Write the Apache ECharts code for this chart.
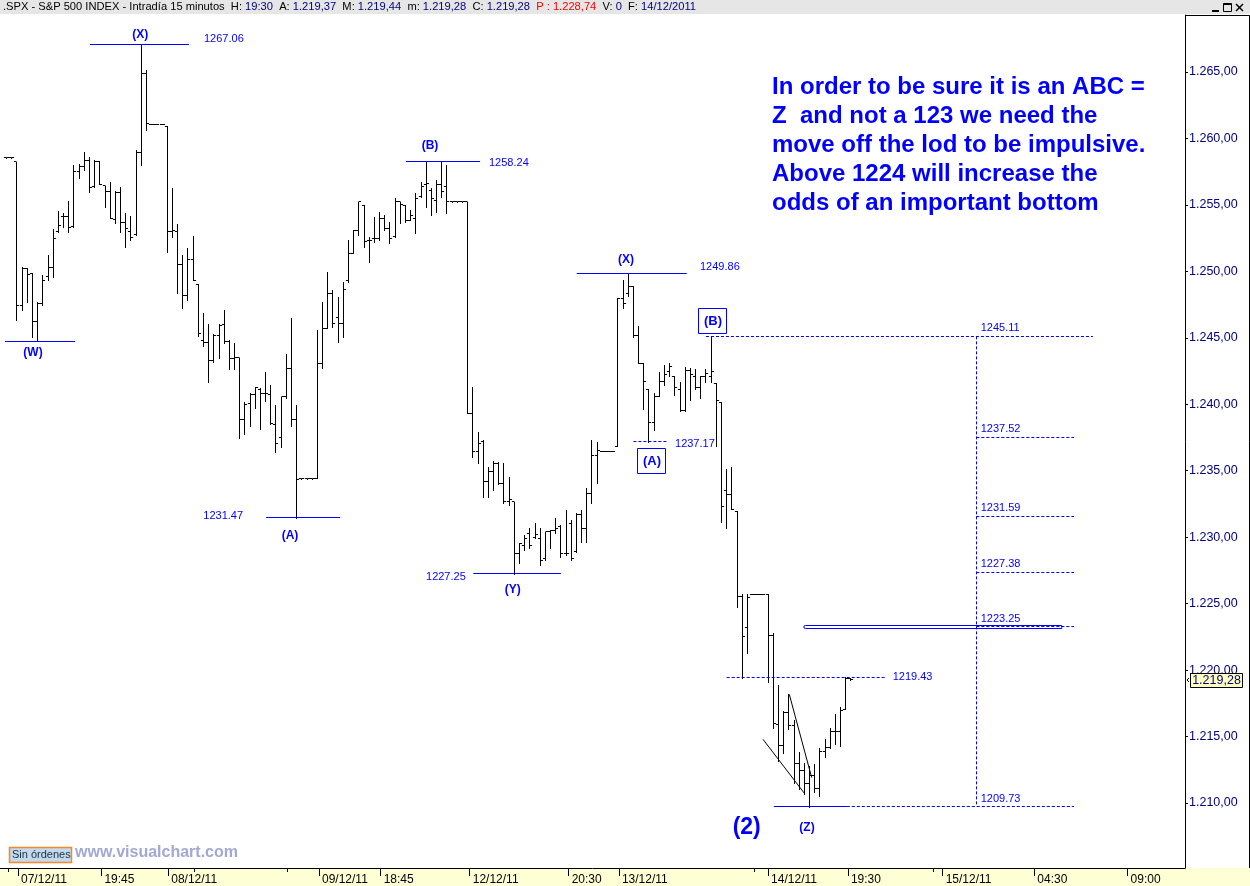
<!DOCTYPE html>
<html><head><meta charset="utf-8">
<script src="https://cdn.jsdelivr.net/npm/echarts@6/dist/echarts.min.js"></script>
<style>html,body{margin:0;padding:0;background:#fff}#c{width:1250px;height:886px}</style>
</head><body><div id="c"></div>
<script>
// ---------- axis ranges / ticks ----------
const X_MIN = -0.28, X_MAX = 228.48;
const Y_MIN = 1205.11, Y_MAX = 1269.29;
const yTickValues = [1210, 1215, 1220, 1225, 1230, 1235, 1240, 1245, 1250, 1255, 1260, 1265];
const xTickSlots  = [3.2, 19.3, 32.2, 61.3, 73.2, 90.4, 109.5, 119.2, 148, 163.4, 181.7, 199.4, 217.4];
const xTickLabels = ['07/12/11','19:45','08/12/11','09/12/11','18:45','12/12/11','20:30','13/12/11','14/12/11','19:30','15/12/11','04:30','09:00'];
const xMinorSlots = [1.3, 37.2, 55.1, 145.3, 179.8];

// ---------- OHLC bars: [open, high, low, close], one array per session ----------
const firstSlot = 1;
const flat0612 = [1258.55, 1258.55];
const bars0712 = [
 [1258.25,1258.25,1246.34,1247.47],[1247.47,1250.30,1247.09,1250.22],[1250.22,1250.22,1247.72,1249.80],
 [1249.85,1249.85,1245.03,1246.26],[1246.26,1247.72,1244.76,1247.59],[1247.59,1249.72,1247.47,1249.35],
 [1249.60,1251.23,1249.35,1250.30],[1250.30,1253.16,1249.60,1252.48],[1253.00,1254.54,1252.93,1253.48],
 [1254.11,1254.36,1253.36,1254.11],[1254.11,1255.29,1252.98,1253.31],[1253.36,1258.00,1253.31,1257.50],
 [1257.50,1258.07,1257.00,1257.87],[1257.87,1258.95,1257.62,1258.38],[1258.38,1258.63,1255.99,1256.29],
 [1256.37,1258.38,1256.37,1258.30],[1258.30,1258.30,1256.54,1256.54],[1256.44,1256.44,1254.86,1255.99],
 [1255.99,1256.70,1253.99,1253.99],[1253.91,1256.07,1253.66,1255.94],[1255.94,1256.37,1252.98,1253.66],
 [1253.66,1254.36,1251.85,1253.23],[1252.98,1254.16,1252.36,1252.56],[1252.78,1259.13,1252.73,1258.93],
 [1258.93,1267.06,1258.00,1264.90],[1264.90,1265.15,1260.63,1261.14]];
const flat0712 = [1261.06, 1261.06, 1261.06];
const bars0812 = [
 [1260.93,1260.93,1251.43,1252.98],[1252.98,1256.24,1252.61,1253.06],[1252.98,1253.56,1248.39,1250.48],
 [1250.48,1251.20,1247.21,1248.22],[1248.22,1251.73,1247.84,1250.93],[1250.93,1252.66,1249.35,1249.35],
 [1249.05,1249.05,1245.13,1245.33],[1244.83,1246.84,1244.40,1244.63],[1244.63,1246.04,1241.65,1243.33],
 [1243.33,1245.30,1243.16,1245.21],[1245.21,1246.04,1243.46,1245.90],[1246.04,1247.09,1244.59,1244.76],
 [1244.76,1244.84,1242.63,1243.46],[1243.46,1244.59,1242.63,1243.53],[1243.50,1243.50,1237.44,1238.87],
 [1238.82,1240.20,1237.74,1240.02],[1240.07,1240.82,1238.37,1240.70],[1240.70,1241.33,1239.75,1241.25],
 [1241.08,1241.20,1238.12,1240.82],[1240.82,1242.40,1240.27,1240.82],[1240.77,1241.45,1238.52,1238.57],
 [1238.49,1239.95,1236.38,1237.06],[1237.51,1240.57,1236.81,1240.57],[1240.57,1243.76,1240.45,1242.71],
 [1242.71,1246.49,1238.39,1238.89],[1238.89,1239.95,1231.47,1234.35]];
const flat0812 = [1234.40, 1234.40, 1234.40];
const bars0912 = [
 [1234.43,1245.59,1234.43,1243.08],[1243.08,1247.72,1242.70,1245.71],[1245.71,1249.98,1245.71,1248.35],
 [1248.35,1248.60,1245.80,1246.09],[1246.50,1248.10,1244.71,1246.09],[1246.09,1249.22,1245.09,1248.60],
 [1249.30,1252.36,1249.22,1251.36],[1251.36,1253.11,1251.36,1253.11],[1253.11,1255.24,1252.74,1255.24],
 [1254.99,1254.99,1251.86,1252.23],[1252.36,1252.61,1250.73,1252.36],[1252.49,1254.10,1252.23,1252.49],
 [1252.49,1254.49,1252.36,1253.99],[1253.99,1254.24,1253.11,1253.24],[1253.24,1253.74,1252.11,1252.49],
 [1252.60,1255.49,1252.60,1255.24],[1255.24,1255.24,1253.61,1255.00],[1254.99,1254.99,1253.74,1253.86],
 [1253.86,1254.60,1253.86,1254.24],[1253.99,1255.87,1252.86,1255.50],[1255.62,1256.75,1255.62,1256.37],
 [1256.50,1258.24,1254.87,1256.62],[1256.12,1256.25,1254.24,1255.50],[1255.30,1256.87,1254.49,1256.50],
 [1256.50,1258.24,1255.62,1256.00],[1256.40,1258.00,1254.37,1255.24]];
const flat0912 = [1255.24, 1255.24, 1255.24];
const bars1212 = [
 [1255.24,1255.24,1239.32,1239.32],[1239.32,1241.32,1236.06,1236.48],[1236.48,1237.94,1235.55,1237.06],
 [1237.20,1237.31,1233.05,1234.18],[1234.18,1235.30,1233.05,1234.93],[1234.93,1235.72,1233.55,1235.55],
 [1235.55,1235.68,1234.00,1234.05],[1234.05,1235.55,1232.55,1232.67],[1232.67,1234.55,1232.42,1232.80],
 [1232.67,1232.67,1227.25,1228.78],[1228.78,1229.54,1228.03,1229.54],[1229.41,1230.16,1229.03,1229.91],
 [1230.29,1230.66,1229.16,1229.41],[1230.00,1231.04,1229.91,1230.24],[1229.91,1230.66,1227.91,1228.28],
 [1228.40,1230.41,1228.28,1230.41],[1230.41,1230.54,1229.16,1230.54],[1230.54,1231.42,1230.29,1230.66],
 [1230.79,1230.92,1228.53,1228.78],[1228.78,1232.04,1228.66,1228.78],[1231.04,1231.30,1228.28,1228.41],
 [1228.91,1231.80,1228.91,1231.67],[1231.67,1232.04,1229.66,1230.67],[1230.67,1233.68,1229.66,1233.30],
 [1233.30,1237.31,1232.55,1236.18],[1236.18,1237.18,1234.05,1236.50]];
const flat1212 = [1236.48, 1236.48, 1236.48];
const bars1312 = [
 [1236.84,1247.97,1236.84,1247.97],[1247.97,1249.36,1247.27,1247.55],[1248.30,1249.86,1248.11,1248.89],
 [1248.89,1248.89,1245.05,1245.20],[1245.20,1245.88,1243.10,1243.10],[1243.10,1243.10,1239.62,1241.70],
 [1241.10,1241.15,1237.17,1238.64],[1238.64,1240.87,1238.09,1240.59],[1240.59,1242.40,1240.59,1241.70],
 [1241.70,1242.96,1241.43,1242.26],[1242.50,1243.10,1242.12,1242.82],[1242.12,1242.12,1240.73,1241.29],
 [1241.15,1241.70,1239.48,1239.56],[1239.56,1242.82,1239.48,1242.54],[1242.54,1242.73,1240.31,1242.26],
 [1242.12,1242.68,1241.15,1241.23],[1241.23,1242.12,1240.45,1242.12],[1242.12,1242.62,1241.70,1242.30],
 [1242.10,1245.11,1241.70,1242.50],[1241.57,1241.57,1236.84,1240.31],[1240.17,1240.17,1231.13,1232.30],
 [1233.55,1235.16,1230.71,1233.22],[1233.22,1235.30,1232.10,1232.10],[1231.96,1231.96,1224.73,1225.56],
 [1225.56,1225.70,1219.43,1222.50],[1223.20,1225.70,1221.25,1225.43]];
const flat1312 = [1225.70, 1225.70, 1225.70];
const bars1412 = [
 [1225.70,1225.70,1219.10,1222.60],[1222.60,1222.78,1215.68,1216.00],[1215.90,1218.88,1213.18,1214.29],
 [1214.30,1216.93,1213.73,1216.80],[1216.80,1218.19,1215.54,1215.82],[1215.82,1216.24,1211.51,1213.00],
 [1213.00,1213.87,1211.09,1212.48],[1212.48,1213.04,1210.67,1211.50],[1211.50,1212.76,1209.73,1212.06],
 [1212.06,1212.90,1210.81,1211.09],[1211.09,1214.15,1210.53,1213.90],[1213.90,1214.85,1213.45,1214.15],
 [1214.15,1215.68,1214.15,1215.40],[1215.40,1216.66,1214.43,1215.40],[1215.40,1217.21,1214.29,1216.93],
 [1217.05,1219.50,1217.05,1219.37],[1219.37,1219.44,1219.28,1219.28]];

// ---------- annotation segments [slot1, price1, slot2, price2, kind] kind: 0 solid blue, 1 dashed blue, 2 black, 3 blue box ----------
const segments = [
 [0.68,1244.76,14.2,1244.76,0],
 [17.1,1267.06,36.2,1267.06,0],
 [51.1,1231.47,65.4,1231.47,0],
 [78.1,1258.24,92.4,1258.24,0],
 [91.1,1227.25,108.0,1227.25,0],
 [111.05,1249.86,132.3,1249.86,0],
 [122.0,1237.17,128.4,1237.17,1],
 [136.0,1245.11,210.7,1245.11,1],
 [188.2,1245.11,188.2,1209.73,1],
 [188.2,1237.52,207.06,1237.52,1],
 [188.2,1231.59,207.06,1231.59,1],
 [188.2,1227.38,207.06,1227.38,1],
 [188.2,1223.25,207.06,1223.25,1],
 [149.1,1209.73,163.2,1209.73,0],
 [163.2,1209.73,207.06,1209.73,1],
 [140.0,1219.43,170.76,1219.43,1],
 [154.9,1223.39,204.68,1223.14,3],
 [147.02,1214.79,155.12,1210.67,2],
 [152.09,1218.18,156.41,1211.92,2]
];

// ---------- annotation texts ----------
const labelSlots  = [6.09, 26.8, 39.1, 55.7, 38.97, 82.73, 94.12, 98.69, 81.96, 120.57, 134.85, 125.59, 130.03, 137.36,
                     189.04, 189.04, 189.04, 189.04, 189.04, 189.04, 172.05, 143.87, 155.51];
const labelValues = [1243.86, 1267.78, 1267.48, 1230.11, 1231.59, 1259.45, 1258.13, 1226.02, 1227.0, 1250.85, 1250.33, 1235.73, 1237.05, 1246.23,
                     1245.74, 1238.14, 1232.17, 1227.96, 1223.82, 1210.30, 1219.46, 1208.12, 1208.15];
const labelTexts  = ['(W)','(X)','1267.06','(A)','1231.47','(B)','1258.24','(Y)','1227.25','(X)','1249.86','(A)','1237.17','(B)',
                     '1245.11','1237.52','1231.59','1227.38','1223.25','1209.73','1219.43','(2)','(Z)'];
const labelKinds  = ['w','w','n','w','n','w','n','w','n','w','n','b','n','b','n','n','n','n','n','n','n','big','w'];

const commentLines = ['In order to be sure it is an ABC =', 'Z  and not a 123 we need the', 'move off the lod to be impulsive.', 'Above 1224 will increase the', 'odds of an important bottom'];

// ---------- build bar data ----------
const sessions = [[bars0712, flat0712],[bars0812, flat0812],[bars0912, flat0912],[bars1212, flat1212],[bars1312, flat1312],[bars1412, []]];
const ohlcData = [];
let slot = firstSlot;
flat0612.forEach(v => { ohlcData.push([slot++, v, v, v, v]); });
sessions.forEach(([bars, flats]) => {
  bars.forEach(b => { ohlcData.push([slot++, b[0], b[1], b[2], b[3]]); });
  flats.forEach(v => { ohlcData.push([slot++, v, v, v, v]); });
});
const lastClose = ohlcData[ohlcData.length - 1][4];

const FONT = '"Liberation Sans", Arial, sans-serif';
const BLUE = '#0000ff';
function fmtNum(v) { const s = v.toFixed(2).replace('.', ','); return s[0] + '.' + s.slice(1); }
function crisp(v) { return Math.round(v - 0.5) + 0.5; }

const chart = echarts.init(document.getElementById('c'), null, {renderer: 'canvas'});
chart.setOption({
  animation: false,
  backgroundColor: '#ffffff',
  grid: {left: 0, right: 65, top: 15, bottom: 18, containLabel: false},
  xAxis: [{
    type: 'value', min: X_MIN, max: X_MAX, position: 'bottom',
    axisLine: {show: true, onZero: false, lineStyle: {color: '#000', width: 1}},
    splitLine: {show: false},
    axisTick: {show: true, customValues: xTickSlots, length: 8, lineStyle: {color: '#000', width: 1}},
    axisLabel: {show: true, customValues: xTickSlots, align: 'left', padding: [0,0,0,3], margin: 6,
      color: '#000', fontSize: 12, fontFamily: FONT,
      formatter: function (v) {
        let best = 0; xTickSlots.forEach((s, i) => { if (Math.abs(s - v) < Math.abs(xTickSlots[best] - v)) best = i; });
        return xTickLabels[best];
      }}
  }, {
    type: 'value', min: X_MIN, max: X_MAX, position: 'bottom',
    axisLine: {show: false, onZero: false}, splitLine: {show: false}, axisLabel: {show: false},
    axisTick: {show: true, customValues: xMinorSlots, length: 4, lineStyle: {color: '#000', width: 1}}
  }],
  yAxis: {
    type: 'value', position: 'right', min: Y_MIN, max: Y_MAX,
    axisLine: {show: true, onZero: false, lineStyle: {color: '#000', width: 1}},
    splitLine: {show: false},
    axisTick: {show: true, customValues: yTickValues, length: 3, lineStyle: {color: '#000'}},
    axisLabel: {customValues: yTickValues, formatter: fmtNum, color: '#000080', fontSize: 12.5, fontFamily: FONT, margin: 4}
  },
  graphic: [
    {type: 'rect', z: -1, shape: {x: 0, y: 868, width: 1250, height: 18}, style: {fill: '#ffffd6'}},
    {type: 'rect', shape: {x: 0, y: 0, width: 1250, height: 14}, style: {fill: '#e6e6e6'}},
    {type: 'text', left: 3, top: 1, style: {
      text: '.SPX - S&P 500 INDEX - Intradía 15 minutos  H: {v|19:30}  A: {v|1.219,37}  M: {v|1.219,44}  m: {v|1.219,28}  C: {v|1.219,28}  {r|P : 1.228,74}  V: {v|0}  F: {v|14/12/2011}',
      font: '11.15px ' + FONT, fill: '#000',
      rich: {v: {fill: '#000080', font: '11.15px ' + FONT}, r: {fill: '#ff0000', font: '11.15px ' + FONT}}}},
    {type: 'rect', shape: {x: 1212, y: 10, width: 7, height: 2}, style: {fill: '#000'}},
    {type: 'rect', shape: {x: 1223.5, y: 3.5, width: 8, height: 8}, style: {fill: 'none', stroke: '#000', lineWidth: 1}},
    {type: 'rect', shape: {x: 1223.5, y: 3.5, width: 8, height: 1.5}, style: {fill: '#000'}},
    {type: 'line', shape: {x1: 1236, y1: 4, x2: 1243, y2: 11}, style: {stroke: '#000', lineWidth: 1.5}},
    {type: 'line', shape: {x1: 1243, y1: 4, x2: 1236, y2: 11}, style: {stroke: '#000', lineWidth: 1.5}},
    {type: 'line', shape: {x1: 1185, y1: 15.5, x2: 1249.5, y2: 15.5}, style: {stroke: '#000', lineWidth: 1}},
    {type: 'line', shape: {x1: 1249.5, y1: 15.5, x2: 1249.5, y2: 868}, style: {stroke: '#000', lineWidth: 1}},
    {type: 'rect', shape: {x: 9.5, y: 847.5, width: 62, height: 15}, style: {fill: '#c8d8ec', stroke: '#f0892a', lineWidth: 1.5}},
    {type: 'text', left: 12, top: 849, style: {text: 'Sin órdenes', font: '11px ' + FONT, fill: '#0b3546'}},
    {type: 'text', left: 75, top: 845, style: {text: 'www.visualchart.com', font: 'bold 16px ' + FONT, fill: '#a3a8d3'}},
    {type: 'text', left: 772, top: 72.5, style: {text: commentLines.join('\n'), font: 'bold 24px ' + FONT, fill: BLUE, lineHeight: 29}}
  ],
  series: [
    {
      type: 'custom', name: 'SPX', coordinateSystem: 'cartesian2d', silent: true,
      encode: {x: 0, y: [1, 2, 3, 4]},
      data: ohlcData,
      renderItem: function (params, api) {
        const s = api.value(0), o = api.value(1), h = api.value(2), l = api.value(3), c = api.value(4);
        const ph = api.coord([s, h]), pl = api.coord([s, l]), po = api.coord([s, o]), pc = api.coord([s, c]);
        const x = crisp(ph[0]);
        const half = api.size([1, 0])[0] * 0.5;
        const st = {stroke: '#000', lineWidth: 1};
        const yo = crisp(po[1]), yc = crisp(pc[1]);
        return {type: 'group', children: [
          {type: 'line', shape: {x1: x, y1: Math.round(ph[1]), x2: x, y2: Math.round(pl[1]) + 1}, style: st},
          {type: 'line', shape: {x1: x - half, y1: yo, x2: x, y2: yo}, style: st},
          {type: 'line', shape: {x1: x, y1: yc, x2: x + half, y2: yc}, style: st}
        ]};
      }
    },
    {
      type: 'custom', name: 'lines', coordinateSystem: 'cartesian2d', silent: true,
      data: segments,
      renderItem: function (params, api) {
        const k = api.value(4);
        const p1 = api.coord([api.value(0), api.value(1)]), p2 = api.coord([api.value(2), api.value(3)]);
        if (k === 3) {
          const y1 = crisp(p1[1]), y2 = crisp(p2[1]);
          return {type: 'rect', shape: {x: p1[0], y: y1, width: p2[0] - p1[0], height: y2 - y1, r: [2, 0, 0, 2]},
                  style: {fill: 'none', stroke: BLUE, lineWidth: 1}};
        }
        if (k === 2) {
          return {type: 'line', shape: {x1: p1[0], y1: p1[1], x2: p2[0], y2: p2[1]}, style: {stroke: '#000', lineWidth: 1}};
        }
        let x1 = p1[0], x2 = p2[0], y1 = p1[1], y2 = p2[1];
        if (Math.abs(y1 - y2) < 0.01) { y1 = y2 = crisp(y1); } else { x1 = x2 = crisp(x1); }
        return {type: 'line', shape: {x1: x1, y1: y1, x2: x2, y2: y2},
                style: {stroke: BLUE, lineWidth: 1, lineDash: k === 1 ? [3, 2] : null}};
      }
    },
    {
      type: 'custom', name: 'labels', coordinateSystem: 'cartesian2d', silent: true,
      data: labelSlots.map((s, i) => [s, labelValues[i]]),
      renderItem: function (params, api) {
        const i = params.dataIndex;
        const p = api.coord([api.value(0), api.value(1)]);
        const kind = labelKinds[i], txt = labelTexts[i];
        if (kind === 'n') {
          return {type: 'text', x: p[0], y: p[1], style: {text: txt, fill: BLUE, font: '11px ' + FONT, align: 'left', verticalAlign: 'middle', textAlign: 'left', textVerticalAlign: 'middle'}};
        }
        if (kind === 'b') {
          return {type: 'group', children: [
            {type: 'rect', shape: {x: Math.round(p[0]) - 14.5, y: Math.round(p[1]) - 12.5, width: 28, height: 25}, style: {fill: '#fff', stroke: BLUE, lineWidth: 1}},
            {type: 'text', x: p[0], y: p[1], style: {text: txt, fill: BLUE, font: 'bold 13px ' + FONT, align: 'center', verticalAlign: 'middle', textAlign: 'center', textVerticalAlign: 'middle'}}
          ]};
        }
        const f = kind === 'big' ? 'bold 23px ' + FONT : 'bold 12px ' + FONT;
        return {type: 'text', x: p[0], y: p[1], style: {text: txt, fill: BLUE, font: f, align: 'center', verticalAlign: 'middle', textAlign: 'center', textVerticalAlign: 'middle'}};
      }
    },
    {
      type: 'custom', name: 'lastPrice', coordinateSystem: 'cartesian2d', silent: true,
      data: [[X_MAX, lastClose]],
      renderItem: function (params, api) {
        const p = api.coord([api.value(0), api.value(1)]);
        const y = Math.round(p[1]);
        const x0 = p[0];
        return {type: 'group', children: [
          {type: 'polyline', shape: {points: [[x0 + 4, y - 2], [x0 + 2, y], [x0 + 4, y + 2]]}, style: {stroke: '#000', lineWidth: 1, fill: 'none'}},
          {type: 'rect', shape: {x: x0 + 5.5, y: y - 6.5, width: 52, height: 14}, style: {fill: '#ffffc0', stroke: '#000', lineWidth: 1}},
          {type: 'text', x: x0 + 31.5, y: y + 0.5, style: {text: fmtNum(api.value(1)), fill: '#000080', font: '12.5px ' + FONT, align: 'center', verticalAlign: 'middle', textAlign: 'center', textVerticalAlign: 'middle'}}
        ]};
      }
    }
  ]
});
</script></body></html>
